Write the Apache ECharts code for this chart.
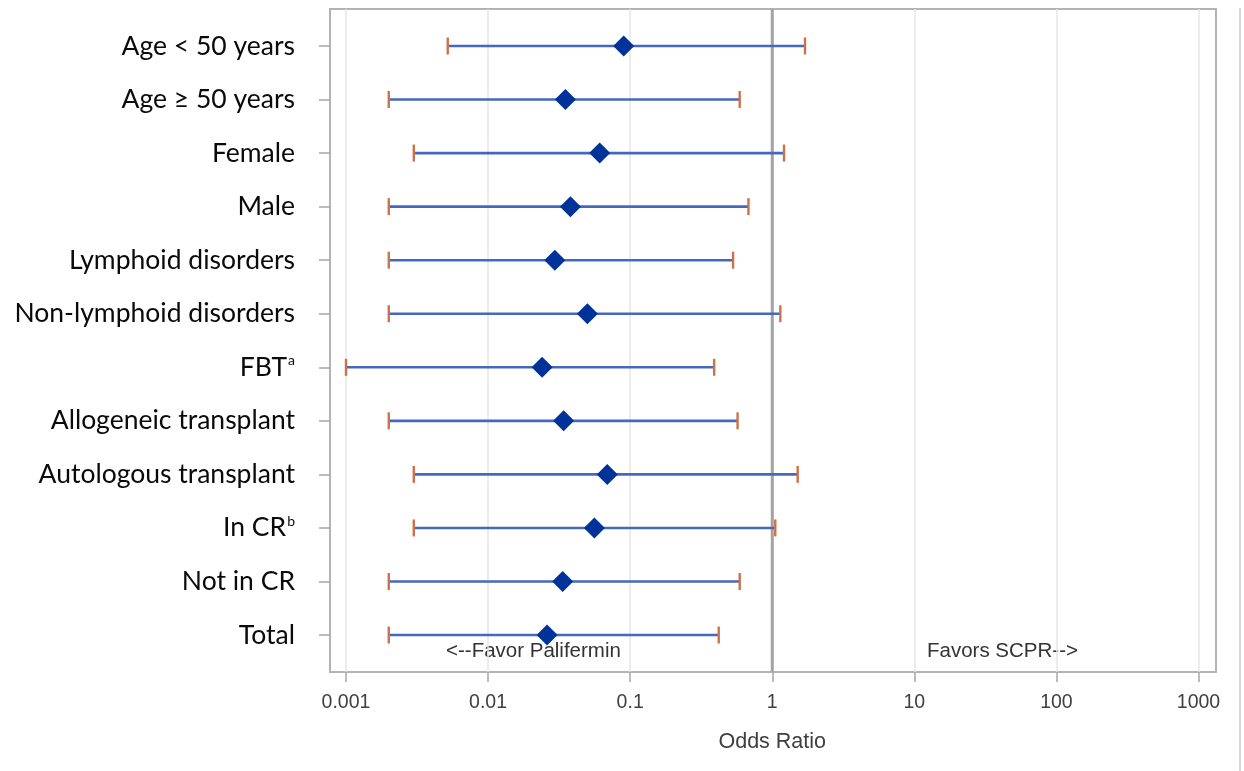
<!DOCTYPE html>
<html>
<head>
<meta charset="utf-8">
<script src="https://cdn.jsdelivr.net/npm/echarts@6/dist/echarts.min.js"></script>
<style>
html,body{margin:0;padding:0;background:#fff;}
#chart{width:1244px;height:771px;}
</style>
</head>
<body>
<div id="chart"></div>
<script>
// ---- data ----
const categories = [
  'Age < 50 years', 'Age \u2265 50 years', 'Female', 'Male',
  'Lymphoid disorders', 'Non-lymphoid disorders', 'FBT{sup|a}',
  'Allogeneic transplant', 'Autologous transplant', 'In CR{sup|b}',
  'Not in CR', 'Total'
];
const oddsRatio = [0.090, 0.035, 0.061, 0.038, 0.0295, 0.050, 0.024, 0.034, 0.069, 0.056, 0.0335, 0.026];
const lowerCI   = [0.0052, 0.002, 0.003, 0.002, 0.002, 0.002, 0.001, 0.002, 0.003, 0.003, 0.002, 0.002];
const upperCI   = [1.70, 0.59, 1.21, 0.68, 0.53, 1.14, 0.39, 0.57, 1.51, 1.05, 0.59, 0.42];
const xTicks = [0.001, 0.01, 0.1, 1, 10, 100, 1000];
const refLine = [[1, 0], [1, 1]];
const leftNote = '<--Favor Palifermin';
const rightNote = 'Favors SCPR-->';

const chart = echarts.init(document.getElementById('chart'), null, {renderer: 'canvas'});

const fmtTick = v => {
  const r = xTicks.find(t => Math.abs(Math.log10(t) - Math.log10(v)) < 1e-6);
  return r !== undefined ? String(r) : '';
};

const option = {
  backgroundColor: '#ffffff',
  animation: false,
  grid: [
    // 0: data area (category bands)
    {left: 346, right: 45.5, top: 19.2, bottom: 109.2, show: false},
    // 1: full-height axis area
    {left: 346, right: 45.5, top: 9, bottom: 99, show: false},
    // 2: frame
    {left: 330, right: 28, top: 9, bottom: 99, show: true, borderColor: '#b3b3b3', borderWidth: 2, backgroundColor: 'transparent'}
  ],
  xAxis: [
    {gridIndex: 0, type: 'log', logBase: 10, min: 0.001, max: 1000, show: false},
    {
      gridIndex: 1, type: 'log', logBase: 10, min: 0.001, max: 1000,
      name: 'Odds Ratio', nameLocation: 'middle', nameGap: 59,
      nameTextStyle: {fontFamily: 'Liberation Sans, Arial', fontSize: 21.5, color: '#404040'},
      axisLine: {show: false},
      axisTick: {show: true, inside: false, length: 10, lineStyle: {color: '#a6a6a6', width: 1.5}},
      axisLabel: {margin: 21, fontFamily: 'Liberation Sans, Arial', fontSize: 19.5, color: '#404040', formatter: fmtTick},
      splitLine: {show: true, lineStyle: {color: '#e6e6e6', width: 1.5}},
      minorTick: {show: false}
    },
    {gridIndex: 2, type: 'value', min: 0, max: 1, show: false}
  ],
  yAxis: [
    {
      gridIndex: 0, type: 'category', data: categories, inverse: true, offset: 16,
      axisLine: {show: false},
      axisTick: {show: true, alignWithLabel: true, length: 11, lineStyle: {color: '#a6a6a6', width: 1.5}},
      axisLabel: {
        margin: 35, fontFamily: 'Lato, Open Sans, sans-serif', fontSize: 26.5, color: '#0a0a0a',
        rich: {sup: {fontFamily: 'Lato, sans-serif', fontSize: 14, color: '#0a0a0a', padding: [0, 0, 13, 1]}}
      },
      splitLine: {show: false}
    },
    {gridIndex: 1, type: 'value', min: 0, max: 1, show: false},
    {gridIndex: 2, type: 'value', min: 0, max: 1, show: false}
  ],
  series: [
    {
      type: 'line', xAxisIndex: 1, yAxisIndex: 1, data: refLine, symbol: 'none', z: 1,
      lineStyle: {color: '#a3a3a3', width: 3}, silent: true
    },
    {
      type: 'custom', xAxisIndex: 0, yAxisIndex: 0, z: 3,
      data: categories.map((c, i) => [lowerCI[i], upperCI[i], i]),
      encode: {x: [0, 1], y: 2},
      renderItem: function (params, api) {
        const y = api.value(2);
        const lo = api.coord([api.value(0), y]);
        const hi = api.coord([api.value(1), y]);
        const h = 8.5;
        return {
          type: 'group',
          children: [
            {type: 'line', shape: {x1: lo[0], y1: lo[1], x2: hi[0], y2: hi[1]}, style: {stroke: '#4468bf', lineWidth: 2.6}},
            {type: 'line', shape: {x1: lo[0], y1: lo[1] - h, x2: lo[0], y2: lo[1] + h}, style: {stroke: '#cf7148', lineWidth: 2.4}},
            {type: 'line', shape: {x1: hi[0], y1: hi[1] - h, x2: hi[0], y2: hi[1] + h}, style: {stroke: '#cf7148', lineWidth: 2.4}}
          ]
        };
      }
    },
    {
      type: 'scatter', xAxisIndex: 0, yAxisIndex: 0, z: 4,
      data: categories.map((c, i) => [oddsRatio[i], i]),
      symbol: 'diamond', symbolSize: [21, 21],
      itemStyle: {color: '#003399', opacity: 1}
    }
  ],
  graphic: [
    {type: 'text', left: 446, top: 641, style: {text: leftNote, font: '20.5px "Liberation Sans", Arial', fill: '#333333'}},
    {type: 'text', left: 927, top: 641, style: {text: rightNote, font: '20.5px "Liberation Sans", Arial', fill: '#333333'}},
    {type: 'line', shape: {x1: 1240, y1: 8, x2: 1240, y2: 771}, style: {stroke: '#d6d6d6', lineWidth: 2}}
  ]
};

chart.setOption(option);
</script>
</body>
</html>
